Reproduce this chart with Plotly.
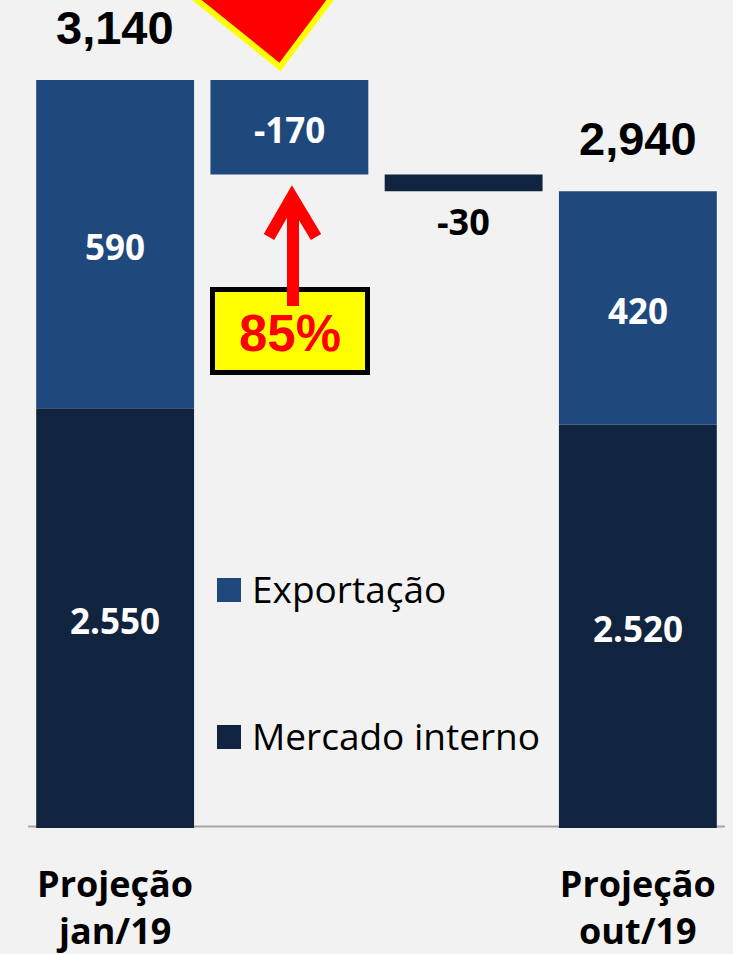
import plotly.graph_objects as go

# ---- data ----
categories = ["Projeção<br>jan/19", "", "", "Projeção<br>out/19"]
mercado_interno = [2550, None, -30, 2520]
exportacao = [590, -170, None, 420]
totals = [3140, None, None, 2940]
total_labels = ["3,140", "", "", "2,940"]
mercado_labels = ["2.550", "", "-30", "2.520"]
export_labels = ["590", "-170", "", "420"]
series_names = ["Exportação", "Mercado interno"]
highlight_label = "85%"

C_EXP = "#1f497d"
C_MI = "#11243f"
BG = "#f2f2f2"

Y_MIN, Y_MAX = 1795, 3284

# ---- waterfall bases ----
x = list(range(len(categories)))
m_base, e_base = [None] * 4, [None] * 4
level = 0
for i in x:
    if totals[i] is not None:
        m_base[i] = 0
        e_base[i] = mercado_interno[i]
        level = totals[i]
    else:
        if exportacao[i] is not None:
            e_base[i] = level
            level += exportacao[i]
        if mercado_interno[i] is not None:
            m_base[i] = level
            level += mercado_interno[i]

fig = go.Figure()
fig.add_trace(go.Bar(x=x, y=mercado_interno, base=m_base, name=series_names[1],
                     marker=dict(color=C_MI, line=dict(width=0)), width=0.906))
fig.add_trace(go.Bar(x=x, y=exportacao, base=e_base, name=series_names[0],
                     marker=dict(color=C_EXP, line=dict(width=0)), width=0.906))

# ---- pixel helpers (plot area: x 28..725, y 0..828) ----
L, W, H = 28, 697, 828
def px(p):
    return (p - L) / W
def py(p):
    return (H - p) / H

ann = []
lab_font = dict(family="Open Sans", size=35, color="white")
for i in x:
    if mercado_labels[i] and totals[i] is not None:
        lo = max(m_base[i], Y_MIN)
        ann.append(dict(x=i, y=(lo + m_base[i] + mercado_interno[i]) / 2, text="<b>%s</b>" % mercado_labels[i],
                        showarrow=False, font=lab_font, yshift=-2))
    if export_labels[i]:
        a, b = e_base[i], e_base[i] + exportacao[i]
        ann.append(dict(x=i, y=(a + b) / 2, text="<b>%s</b>" % export_labels[i],
                        showarrow=False, font=lab_font, yshift=-2))
    if totals[i] is not None:
        ann.append(dict(x=i, y=totals[i], text="<b>%s</b>" % total_labels[i], showarrow=False,
                        yshift=53, font=dict(family="Liberation Sans", size=47, color="black")))
# delta mercado label below the floating bar
for i in x:
    if totals[i] is None and mercado_interno[i] is not None:
        ann.append(dict(x=i, y=m_base[i] + mercado_interno[i], text="<b>%s</b>" % mercado_labels[i],
                        showarrow=False, yshift=-30,
                        font=dict(family="Open Sans", size=36, color="black")))

# legend texts
ann.append(dict(xref="paper", yref="paper", x=px(250), y=py(588), xanchor="left", yanchor="middle",
                text=series_names[0], showarrow=False, font=dict(family="Open Sans", size=37, color="black")))
ann.append(dict(xref="paper", yref="paper", x=px(250), y=py(735), xanchor="left", yanchor="middle",
                text=series_names[1], showarrow=False, font=dict(family="Open Sans", size=37, color="black")))
# highlight box text
ann.append(dict(xref="paper", yref="paper", x=px(290), y=py(333), xanchor="center", yanchor="middle",
                text="<b>%s</b>" % highlight_label, showarrow=False,
                font=dict(family="Liberation Sans", size=51, color="#ff0000")))

def path(points, close=False):
    s = "M " + " L ".join("%f,%f" % (px(a), py(b)) for a, b in points)
    return s + (" Z" if close else "")

shapes = [
    dict(type="line", xref="paper", yref="paper", x0=0, x1=1, y0=py(826.5), y1=py(826.5),
         line=dict(color="#a6a6a6", width=2), layer="below"),
    dict(type="rect", xref="paper", yref="paper", x0=px(217), x1=px(241), y0=py(602), y1=py(578),
         fillcolor=C_EXP, line=dict(width=0)),
    dict(type="rect", xref="paper", yref="paper", x0=px(217), x1=px(241), y0=py(749), y1=py(725),
         fillcolor=C_MI, line=dict(width=0)),
    # red triangle
    dict(type="path", xref="paper", yref="paper", path=path([(172, -20), (345, -20), (280, 67)], True),
         fillcolor="#ff0000", line=dict(color="#ffff00", width=6)),
    # yellow box
    dict(type="rect", xref="paper", yref="paper", x0=px(212.5), x1=px(367.5), y0=py(372.5), y1=py(289.5),
         fillcolor="#ffff00", line=dict(color="black", width=5)),
    # arrow
    dict(type="path", xref="paper", yref="paper", path=path([(293, 306), (293, 205)]),
         line=dict(color="#ff0000", width=12)),
    dict(type="path", xref="paper", yref="paper", path=path([(269, 237), (292, 197), (316, 237)]),
         line=dict(color="#ff0000", width=12)),
]

fig.update_layout(
    width=733, height=954,
    margin=dict(l=L, r=733 - L - W, t=0, b=954 - H),
    paper_bgcolor=BG, plot_bgcolor=BG,
    barmode="overlay", showlegend=False,
    annotations=ann, shapes=shapes,
    xaxis=dict(range=[-0.5, 3.5], tickvals=[0, 3], ticktext=["<b>%s</b>" % categories[0], "<b>%s</b>" % categories[3]],
               tickfont=dict(family="Open Sans", size=36, color="black"), showgrid=False, zeroline=False,
               showline=False, ticks="", ticklabelstandoff=32),
    yaxis=dict(range=[Y_MIN, Y_MAX], visible=False, showgrid=False),
)

fig.write_html("out.html", config={"displayModeBar": False},
               post_script="document.body.style.margin='0';document.body.style.background='%s';" % BG)
